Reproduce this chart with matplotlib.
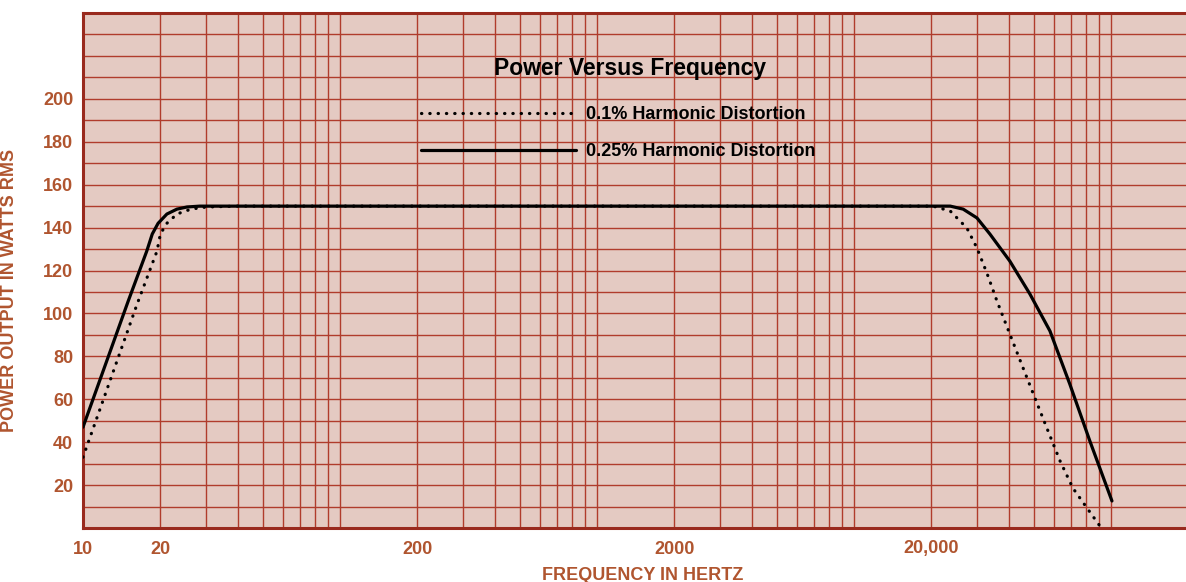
import matplotlib
matplotlib.use('Agg')
import matplotlib.pyplot as plt
from matplotlib.ticker import (LogLocator, MultipleLocator, FixedLocator,
                               FixedFormatter, NullFormatter)

plt.rcParams['font.family'] = ['Liberation Sans', 'DejaVu Sans']

# Curva 0.1% de distorção harmônica (pontilhada)
freq_01 = [10, 16.2, 19.4, 20, 21.2, 23.2, 25.4, 27.7, 30.3, 40,
           1000, 20300, 23700, 27500, 30100, 33000, 36000, 40400, 45500, 50600,
           56300, 63400, 71100, 80700, 90600]
pot_01 = [33, 104, 129, 137, 142, 146.3, 148, 149, 149.6, 150,
          150, 150, 147.7, 139.8, 130.5, 118.4, 105.8, 90.4, 74.6, 60.6,
          46.6, 31.2, 18.6, 9.3, 0.9]

# Curva 0.25% de distorção harmônica (contínua)
freq_025 = [10, 15, 17.7, 18.6, 19.6, 21.2, 23.2, 25.4, 28.5, 40,
            1000, 21000, 23700, 26600, 30100, 33800, 40400, 48400, 57900, 69200,
            82800, 100900]
pot_025 = [47, 105.8, 129, 137, 142, 146.3, 148.6, 149.6, 150, 150,
           150, 150, 150, 148.6, 144.5, 137, 124.4, 109, 91.8, 67,
           40.5, 12.6]

x_ticks = [10, 20, 200, 2000, 20000]
x_labels = ['10', '20', '200', '2000', '20,000']
y_ticks = list(range(20, 201, 20))

papel = '#e4cac2'
grade = '#b03c2c'
borda = '#992a1e'
texto = '#b0552f'

fig = plt.figure(figsize=(11.86, 5.82), dpi=100)
ax = fig.add_axes([83 / 1186, 1 - 528 / 582, 1103 / 1186, 515 / 582])
ax.set_facecolor(papel)
ax.set_xscale('log')
ax.set_xlim(10, 195900)
ax.set_ylim(0, 240)

ax.plot(freq_025, pot_025, color='black', lw=2.3, solid_capstyle='round',
        solid_joinstyle='round', label='0.25% Harmonic Distortion', zorder=5)
ax.plot(freq_01, pot_01, color='black', lw=2.3, linestyle=(0, (0.1, 2.5)),
        dash_capstyle='round', label='0.1% Harmonic Distortion', zorder=5)

# grade de papel logarítmico
ax.xaxis.set_major_locator(FixedLocator(x_ticks))
ax.xaxis.set_major_formatter(FixedFormatter(x_labels))
ax.xaxis.set_minor_locator(LogLocator(base=10, subs=range(1, 10), numticks=20))
ax.xaxis.set_minor_formatter(NullFormatter())
ax.yaxis.set_major_locator(FixedLocator(y_ticks))
ax.yaxis.set_minor_locator(MultipleLocator(10))
ax.yaxis.set_minor_formatter(NullFormatter())
ax.grid(which='both', color=grade, lw=1.0)
ax.set_axisbelow(True)

ax.tick_params(which='both', length=0)
ax.tick_params(axis='x', pad=9, labelsize=13, labelcolor=texto)
ax.tick_params(axis='y', pad=7, labelsize=13, labelcolor=texto)
for lbl in ax.get_xticklabels() + ax.get_yticklabels():
    lbl.set_fontweight('bold')

for lado in ['top', 'bottom', 'left']:
    ax.spines[lado].set_color(borda)
    ax.spines[lado].set_linewidth(2.2)
ax.spines['right'].set_visible(False)

ax.set_xlabel('FREQUENCY IN HERTZ', color=texto, fontsize=13, fontweight='bold')
ax.xaxis.set_label_coords(0.507, -0.075)
ax.set_ylabel('POWER OUTPUT IN WATTS RMS', color=texto, fontsize=13, fontweight='bold')
ax.yaxis.set_label_coords(-0.059, 0.462)

ax.text(1343, 214, 'Power Versus Frequency', ha='center', va='center',
        fontsize=16.5, fontweight='bold', color='black')

handles, labels = ax.get_legend_handles_labels()
leg = ax.legend(handles[::-1], labels[::-1], loc='center', bbox_to_anchor=(0.485, 0.767),
                frameon=False, handlelength=8.6, handletextpad=0.55, labelspacing=1.1,
                prop={'weight': 'bold', 'size': 13})

plt.savefig('out.png', dpi=100, facecolor='white')
